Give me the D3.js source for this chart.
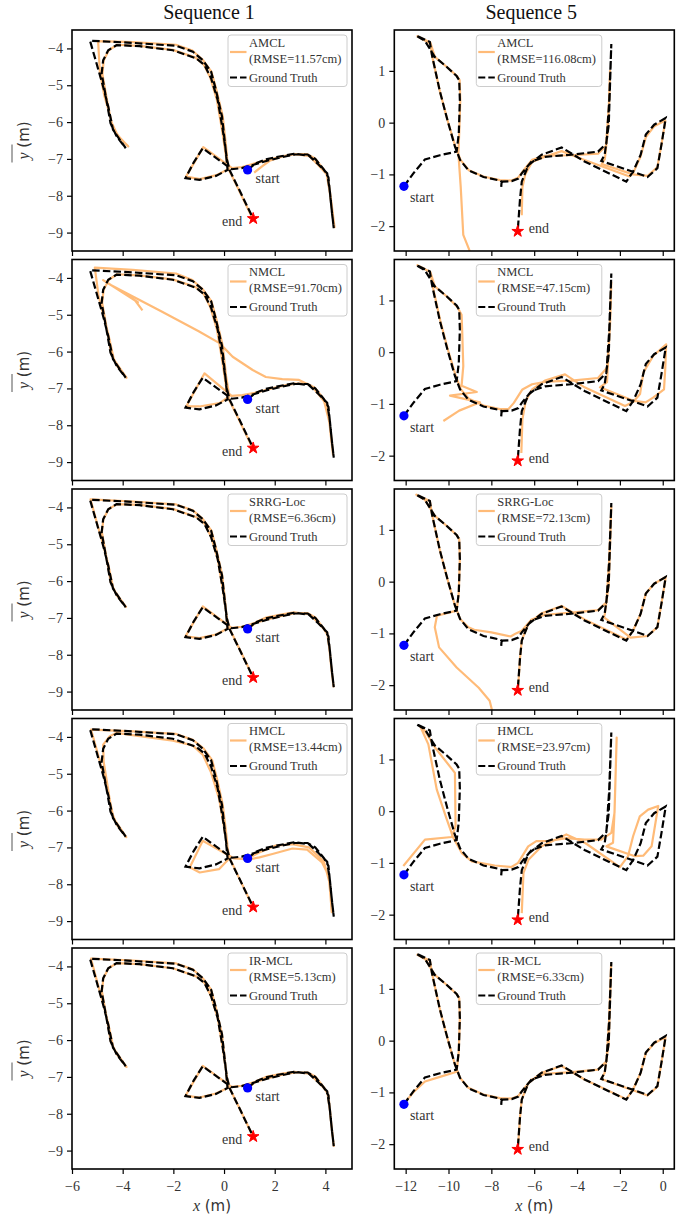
<!DOCTYPE html>
<html>
<head>
<meta charset="utf-8">
<script src="https://cdn.jsdelivr.net/npm/d3@7"></script>
<style>
  body { margin: 0; background: #fff; }
  text { font-family: "Liberation Serif", "DejaVu Serif", serif; }
</style>
</head>
<body>
<svg id="chart" width="682" height="1217"></svg>
<script>
// ---- data ----
var methods = ["AMCL", "NMCL", "SRRG-Loc", "HMCL", "IR-MCL"];
var rmseSeq1 = ["11.57", "91.70", "6.36", "13.44", "5.13"];
var rmseSeq5 = ["116.08", "47.15", "72.13", "23.97", "6.33"];

var xTicksSeq1 = [-6, -4, -2, 0, 2, 4];
var yTicksSeq1 = [-9, -8, -7, -6, -5, -4];
var xTicksSeq5 = [-12, -10, -8, -6, -4, -2, 0];
var yTicksSeq5 = [-2, -1, 0, 1];

// ground truth, sequence 1 (first point = start, last = end)
var gtSeq1 = [[0.93,-7.30],[1.25,-7.12],[1.65,-7.01],[2.30,-6.92],[2.76,-6.86],[3.35,-6.91],[3.68,-7.12],[4.07,-7.39],[4.18,-7.90],[4.25,-8.40],[4.33,-8.88],
  [4.22,-8.20],[4.12,-7.50],[3.95,-7.30],[3.60,-7.00],[3.30,-6.88],[2.80,-6.88],[2.30,-6.95],[1.70,-7.05],[1.20,-7.15],[0.70,-7.25],[0.30,-7.28],
  [-0.84,-6.71],[-1.20,-7.10],[-1.52,-7.52],[-0.97,-7.57],[-0.32,-7.46],[0.14,-7.30],
  [0.05,-6.66],[-0.08,-5.85],[-0.32,-5.13],[-0.51,-4.63],[-0.84,-4.32],[-1.23,-4.09],[-1.89,-3.93],[-3.59,-3.85],[-5.29,-3.79],
  [-5.03,-4.41],[-4.77,-5.04],[-4.57,-5.58],[-4.38,-6.21],[-4.11,-6.48],[-3.88,-6.71],
  [-4.24,-6.39],[-4.48,-6.03],[-4.64,-5.40],[-4.83,-4.68],[-4.77,-4.32],[-4.57,-4.05],[-4.24,-3.91],[-3.33,-3.94],[-2.02,-4.05],[-1.10,-4.27],
  [-0.77,-4.45],[-0.51,-4.81],[-0.25,-5.40],[-0.05,-6.21],[0.12,-7.03],[0.23,-7.32],[0.60,-7.84],[1.15,-8.62]];

var amclSeq1 = [[1.19,-7.37],[1.50,-7.20],[1.80,-7.05],[2.30,-6.93],[2.78,-6.87],[3.35,-6.92],[3.70,-7.15],[4.05,-7.42],[4.17,-7.90],[4.27,-8.40],[4.36,-8.85],
  [4.24,-8.20],[4.10,-7.50],[3.93,-7.28],[3.58,-6.98],[3.28,-6.87],[2.80,-6.87],[2.30,-6.93],[1.72,-7.03],[1.22,-7.12],[0.72,-7.22],[0.32,-7.25],
  [-0.82,-6.68],[-1.50,-7.48],[-0.95,-7.55],[-0.30,-7.44],[0.16,-7.28],
  [0.08,-6.66],[-0.05,-5.85],[-0.30,-5.13],[-0.50,-4.63],[-0.85,-4.30],[-1.25,-4.06],[-1.90,-3.90],[-3.60,-3.83],[-4.97,-3.80],
  [-4.90,-4.65],[-4.72,-5.30],[-4.55,-5.70],[-4.36,-6.20],[-4.08,-6.45],[-3.78,-6.66],
  [-4.20,-6.36],[-4.45,-6.00],[-4.62,-5.40],[-4.80,-4.70],[-4.75,-4.33],[-4.55,-4.05],[-4.22,-3.90],[-3.33,-3.93],[-2.02,-4.04],[-1.12,-4.25],
  [-0.80,-4.44],[-0.54,-4.80],[-0.28,-5.40],[-0.08,-6.21],[0.10,-7.03],[0.21,-7.32],[0.58,-7.84],[1.10,-8.58]];

var nmclSeq1 = [[-3.22,-4.88],[-3.50,-4.62],[-3.40,-4.66],[-4.77,-4.06],[-4.45,-4.20],[-2.50,-4.90],[-1.00,-5.45],[-0.18,-5.77],[0.34,-6.14],[1.13,-6.50],
  [1.65,-6.69],[2.30,-6.75],[2.96,-6.77],[3.48,-6.95],[3.95,-7.35],[4.15,-7.90],[4.25,-8.40],[4.30,-8.80],
  [4.20,-8.20],[4.10,-7.50],[3.93,-7.28],[3.58,-6.98],[3.28,-6.87],[2.80,-6.87],[2.30,-6.93],[1.72,-7.03],[1.22,-7.12],[0.72,-7.18],[0.30,-7.20],
  [-0.77,-6.59],[-1.49,-7.49],[-0.97,-7.49],[-0.18,-7.40],[0.21,-7.22],
  [0.08,-6.66],[-0.05,-5.85],[-0.30,-5.13],[-0.50,-4.63],[-0.85,-4.30],[-1.25,-4.06],[-1.90,-3.88],[-3.60,-3.78],[-5.10,-3.72],
  [-4.95,-4.50],[-4.75,-5.04],[-4.55,-5.58],[-4.35,-6.21],[-4.08,-6.48],[-3.85,-6.71],
  [-4.22,-6.39],[-4.46,-6.03],[-4.62,-5.40],[-4.81,-4.68],[-4.75,-4.32],[-4.55,-4.05],[-4.22,-3.90],[-3.33,-3.93],[-2.02,-4.04],[-1.12,-4.25],
  [-0.80,-4.44],[-0.54,-4.80],[-0.28,-5.40],[-0.08,-6.21],[0.10,-7.03],[0.21,-7.32],[0.58,-7.84],[1.10,-8.58]];

var srrgSeq1 = [[0.95,-7.31],[1.27,-7.11],[1.66,-6.99],[2.30,-6.90],[2.76,-6.85],[3.36,-6.90],[3.69,-7.11],[4.07,-7.40],[4.17,-7.90],[4.24,-8.40],[4.32,-8.86],
  [4.21,-8.20],[4.11,-7.50],[3.94,-7.29],[3.60,-6.99],[3.30,-6.87],[2.80,-6.87],[2.30,-6.94],[1.70,-7.04],[1.20,-7.14],[0.70,-7.24],[0.30,-7.27],
  [-0.84,-6.69],[-1.52,-7.50],[-0.97,-7.55],[-0.32,-7.45],[0.14,-7.29],
  [0.06,-6.66],[-0.07,-5.85],[-0.31,-5.13],[-0.50,-4.63],[-0.84,-4.31],[-1.23,-4.08],[-1.89,-3.92],[-3.59,-3.84],[-5.27,-3.78],
  [-5.02,-4.41],[-4.76,-5.04],[-4.56,-5.58],[-4.37,-6.21],[-4.10,-6.48],[-3.87,-6.70],
  [-4.23,-6.39],[-4.47,-6.03],[-4.63,-5.40],[-4.82,-4.68],[-4.76,-4.32],[-4.56,-4.05],[-4.23,-3.91],[-3.33,-3.93],[-2.02,-4.04],[-1.10,-4.26],
  [-0.77,-4.44],[-0.51,-4.80],[-0.25,-5.40],[-0.05,-6.21],[0.12,-7.03],[0.23,-7.31],[0.60,-7.83],[1.14,-8.60]];

var hmclSeq1 = [[0.95,-7.33],[1.40,-7.27],[1.91,-7.18],[2.70,-7.03],[3.28,-7.06],[3.87,-7.41],[4.13,-7.77],[4.20,-8.30],[4.25,-8.76],
  [4.18,-8.00],[3.94,-7.38],[3.35,-7.00],[2.70,-6.91],[2.04,-6.95],[1.39,-7.14],[0.86,-7.32],[0.40,-7.30],
  [-0.84,-6.82],[-1.35,-7.54],[-0.96,-7.68],[-0.20,-7.59],[0.18,-7.32],
  [0.10,-6.70],[-0.05,-5.85],[-0.28,-5.13],[-0.47,-4.63],[-0.80,-4.32],[-1.23,-4.08],[-1.89,-3.92],[-3.59,-3.85],[-5.25,-3.80],
  [-5.00,-4.41],[-4.75,-5.04],[-4.55,-5.58],[-4.36,-6.21],[-4.09,-6.48],[-3.86,-6.72],
  [-4.22,-6.40],[-4.44,-6.03],[-4.58,-5.40],[-4.75,-4.68],[-4.77,-4.21],[-4.51,-3.98],[-4.25,-3.89],[-3.33,-3.98],[-2.02,-4.10],[-1.24,-4.23],
  [-0.84,-4.48],[-0.51,-4.97],[-0.19,-5.69],[0.08,-6.77],[0.21,-7.27],[0.60,-7.84],[1.13,-8.60]];

var irmclSeq1 = [[0.94,-7.31],[1.26,-7.12],[1.66,-7.00],[2.30,-6.91],[2.77,-6.86],[3.36,-6.91],[3.69,-7.12],[4.07,-7.40],[4.18,-7.90],[4.25,-8.40],[4.33,-8.87],
  [4.22,-8.20],[4.12,-7.50],[3.95,-7.29],[3.60,-6.99],[3.30,-6.88],[2.80,-6.88],[2.30,-6.94],[1.70,-7.04],[1.20,-7.14],[0.70,-7.24],[0.30,-7.27],
  [-0.84,-6.70],[-1.52,-7.51],[-0.97,-7.56],[-0.32,-7.45],[0.14,-7.30],
  [0.05,-6.66],[-0.08,-5.85],[-0.32,-5.13],[-0.51,-4.63],[-0.84,-4.32],[-1.23,-4.08],[-1.89,-3.92],[-3.59,-3.84],[-5.25,-3.79],
  [-5.01,-4.41],[-4.76,-5.04],[-4.56,-5.58],[-4.37,-6.21],[-4.10,-6.48],[-3.85,-6.73],
  [-4.23,-6.39],[-4.47,-6.03],[-4.63,-5.40],[-4.82,-4.68],[-4.76,-4.32],[-4.56,-4.05],[-4.23,-3.91],[-3.33,-3.94],[-2.02,-4.05],[-1.10,-4.27],
  [-0.77,-4.45],[-0.51,-4.81],[-0.25,-5.40],[-0.05,-6.21],[0.12,-7.03],[0.23,-7.32],[0.60,-7.84],[1.14,-8.61]];

// ground truth, sequence 5
var gtSeq5 = [[-12.08,-1.23],[-11.64,-0.98],[-11.10,-0.71],[-10.40,-0.63],[-9.62,-0.56],[-9.52,-0.21],[-9.47,0.44],[-9.50,0.82],[-9.62,0.90],
  [-10.09,1.08],[-10.64,1.27],[-11.10,1.58],[-11.50,1.68],[-10.87,1.56],[-10.77,1.30],[-10.40,0.60],[-10.05,0.05],[-9.70,-0.46],
  [-9.46,-0.72],[-9.07,-0.92],[-8.37,-1.05],[-7.60,-1.12],[-7.52,-1.14],[-7.54,-1.24],[-7.50,-1.14],[-7.05,-1.13],[-6.74,-1.08],
  [-6.58,-0.98],[-6.12,-0.75],[-5.50,-0.66],[-4.26,-0.62],[-3.02,-0.56],[-2.63,-0.40],[-2.50,0.40],[-2.40,1.52],
  [-2.52,-0.04],[-2.71,-0.62],[-2.87,-0.74],[-1.39,-0.95],[-0.71,-1.05],[-0.25,-0.88],[-0.05,-0.40],[0.14,0.09],
  [-0.40,-0.04],[-0.79,-0.23],[-1.03,-0.62],[-1.39,-0.95],[-1.70,-1.14],[-3.65,-0.75],[-4.72,-0.48],
  [-5.65,-0.62],[-6.27,-0.82],[-6.58,-1.14],[-6.66,-1.47],[-6.77,-2.10]];

var amclSeq5 = [[-8.85,-2.90],[-9.03,-2.46],[-9.31,-2.17],[-9.43,-1.24],[-9.54,-0.59],[-9.50,-0.21],[-9.45,0.44],[-9.48,0.82],[-9.60,0.90],
  [-10.09,1.08],[-10.64,1.27],[-10.85,1.55],[-11.45,1.67],[-10.85,1.53],[-10.76,1.28],[-10.40,0.60],[-10.05,0.05],[-9.68,-0.46],
  [-9.44,-0.72],[-9.05,-0.92],[-8.37,-1.04],[-7.60,-1.11],[-7.05,-1.12],[-6.74,-1.06],[-6.55,-0.95],[-6.10,-0.72],[-5.50,-0.64],
  [-4.26,-0.63],[-3.02,-0.60],[-2.65,-0.45],[-2.50,0.40],[-2.46,1.00],[-2.55,-0.10],[-2.70,-0.70],[-2.85,-0.80],
  [-1.39,-1.00],[-0.71,-1.03],[-0.25,-0.86],[-0.05,-0.40],[0.12,0.04],[-0.40,-0.07],[-0.79,-0.28],[-1.03,-0.65],[-1.39,-0.98],
  [-1.55,-1.04],[-3.65,-0.72],[-4.72,-0.55],[-5.50,-0.66],[-6.10,-0.76],[-6.42,-1.00],[-6.55,-1.25],[-6.58,-1.79]];

var nmclSeq5 = [[-10.24,-1.33],[-9.50,-1.13],[-8.53,-0.97],[-9.93,-0.84],[-8.68,-0.77],[-9.39,-0.65],[-9.31,-0.27],[-9.36,0.40],[-9.39,0.72],
  [-9.60,0.88],[-10.09,1.08],[-10.64,1.27],[-10.85,1.55],[-11.45,1.68],[-10.85,1.55],[-10.74,1.28],[-10.38,0.60],[-10.03,0.05],
  [-9.66,-0.46],[-9.42,-0.72],[-9.05,-0.90],[-8.37,-1.03],[-7.60,-1.10],[-7.20,-1.10],[-6.95,-0.98],[-6.55,-0.72],[-6.10,-0.62],
  [-5.42,-0.57],[-4.26,-0.55],[-3.02,-0.50],[-2.60,-0.30],[-2.46,0.50],[-2.40,1.35],[-2.48,0.40],[-2.60,-0.58],[-2.93,-0.68],
  [-1.37,-0.94],[-0.80,-0.97],[-0.45,-0.88],[0.06,-0.72],[0.12,-0.30],[0.16,0.15],[-0.44,-0.07],[-0.90,-0.39],[-1.06,-0.81],
  [-1.37,-0.96],[-1.76,-1.04],[-3.65,-0.68],[-4.56,-0.43],[-5.50,-0.55],[-6.10,-0.72],[-6.40,-0.95],[-6.55,-1.30],[-6.60,-1.95]];

var srrgSeq5 = [[-7.80,-2.75],[-7.97,-2.48],[-8.08,-2.30],[-8.59,-2.05],[-9.62,-1.66],[-10.44,-1.27],[-10.64,-0.88],[-10.54,-0.66],[-9.62,-0.56],
  [-9.52,-0.21],[-9.47,0.44],[-9.50,0.82],[-9.62,0.90],[-10.09,1.08],[-10.64,1.27],[-11.10,1.58],[-11.50,1.68],[-10.87,1.56],
  [-10.77,1.30],[-10.40,0.60],[-10.05,0.05],[-9.70,-0.46],[-9.46,-0.72],[-9.07,-0.88],[-8.80,-0.93],[-8.00,-0.98],[-7.10,-1.06],
  [-6.85,-1.00],[-6.58,-0.95],[-6.12,-0.73],[-5.50,-0.64],[-4.26,-0.60],[-3.02,-0.55],[-2.63,-0.40],[-2.50,0.40],[-2.40,1.45],
  [-2.52,-0.04],[-2.70,-0.62],[-2.74,-0.69],[-1.50,-1.08],[-0.71,-1.05],[-0.25,-0.88],[-0.05,-0.40],[0.14,0.09],
  [-0.40,-0.04],[-0.79,-0.23],[-1.03,-0.62],[-1.39,-0.95],[-1.70,-1.12],[-3.65,-0.73],[-4.72,-0.47],
  [-5.65,-0.61],[-6.27,-0.81],[-6.58,-1.13],[-6.66,-1.47],[-6.75,-2.05]];

var hmclSeq5 = [[-12.11,-1.06],[-11.10,-0.55],[-9.85,-0.50],[-9.67,-0.29],[-9.70,0.74],[-10.63,1.23],[-11.10,1.55],[-11.30,1.62],
  [-10.94,1.29],[-10.55,0.42],[-10.08,-0.16],[-9.77,-0.52],[-9.38,-0.81],[-8.91,-0.97],[-7.84,-1.05],[-7.06,-1.08],[-6.75,-1.00],
  [-6.28,-0.68],[-5.90,-0.58],[-5.36,-0.58],[-4.50,-0.52],[-3.65,-0.55],[-2.87,-0.55],[-2.40,-0.42],[-2.25,-0.03],[-2.15,1.42],
  [-2.25,0.00],[-2.32,-0.61],[-2.63,-0.68],[-1.30,-0.87],[-0.91,-0.86],[-0.52,-0.68],[-0.21,0.10],[-0.68,0.03],[-1.07,-0.10],
  [-1.38,-0.48],[-1.62,-0.87],[-2.00,-1.08],[-3.60,-0.62],[-4.50,-0.45],[-5.65,-0.68],[-6.27,-0.94],[-6.50,-1.19],[-6.58,-1.97]];

var irmclSeq5 = [[-12.05,-1.20],[-11.60,-0.98],[-11.10,-0.79],[-10.40,-0.70],[-9.62,-0.60],[-9.52,-0.21],[-9.47,0.44],[-9.50,0.82],[-9.62,0.90],
  [-10.09,1.08],[-10.64,1.27],[-11.08,1.57],[-11.45,1.66],[-10.87,1.55],[-10.77,1.30],[-10.40,0.60],[-10.05,0.05],[-9.70,-0.46],
  [-9.46,-0.72],[-9.07,-0.91],[-8.37,-1.04],[-7.60,-1.11],[-7.05,-1.12],[-6.74,-1.07],[-6.58,-0.98],[-6.12,-0.75],[-5.50,-0.64],
  [-4.26,-0.61],[-3.02,-0.56],[-2.63,-0.40],[-2.50,0.40],[-2.41,1.48],[-2.52,-0.04],[-2.71,-0.62],[-2.87,-0.74],
  [-1.39,-0.96],[-0.71,-1.06],[-0.25,-0.89],[-0.05,-0.40],[0.13,0.07],[-0.40,-0.05],[-0.79,-0.24],[-1.03,-0.62],[-1.39,-0.95],
  [-1.70,-1.13],[-3.65,-0.75],[-4.72,-0.49],[-5.65,-0.62],[-6.27,-0.82],[-6.58,-1.13],[-6.66,-1.47],[-6.76,-2.08]];

var estSeq1 = [amclSeq1, nmclSeq1, srrgSeq1, hmclSeq1, irmclSeq1];
var estSeq5 = [amclSeq5, nmclSeq5, srrgSeq5, hmclSeq5, irmclSeq5];

// ---- layout ----
var W = 280, H = 221, rowPitch = 229.5, firstTop = 30;
var orange = "#ffbb78";

var columns = [
  { title: "Sequence 1", left: 72, gt: gtSeq1, est: estSeq1, rmse: rmseSeq1,
    xDomain: [-6, 5.05], yDomain: [-9.5, -3.5], xTicks: xTicksSeq1, yTicks: yTicksSeq1,
    legX: 156, legW: 119, startDx: 8, startDy: 13.5, endDx: -11, endDy: 7.5, endAnchor: "end" },
  { title: "Sequence 5", left: 394.3, gt: gtSeq5, est: estSeq5, rmse: rmseSeq5,
    xDomain: [-12.53, 0.54], yDomain: [-2.48, 1.79], xTicks: xTicksSeq5, yTicks: yTicksSeq5,
    legX: 82, legW: 125.5, startDx: 6, startDy: 16, endDx: 11, endDy: 2, endAnchor: "start" }
];

var svg = d3.select("#chart");
var defs = svg.append("defs");

columns.forEach(function (c, ci) {
  // column title
  svg.append("text")
    .attr("x", c.left + W / 2 - 3)
    .attr("y", 19)
    .attr("text-anchor", "middle")
    .style("font-size", "20px")
    .attr("fill", "#111")
    .text(c.title);

  var x = d3.scaleLinear().domain(c.xDomain).range([0, W]);
  var y = d3.scaleLinear().domain(c.yDomain).range([H, 0]);
  var line = d3.line().x(function (d) { return x(d[0]); }).y(function (d) { return y(d[1]); });

  methods.forEach(function (m, ri) {
    var top = firstTop + ri * rowPitch;
    var g = svg.append("g").attr("transform", "translate(" + c.left + "," + top + ")");
    var clipId = "clip" + ci + "_" + ri;
    defs.append("clipPath").attr("id", clipId)
      .append("rect").attr("width", W).attr("height", H);

    var plot = g.append("g").attr("clip-path", "url(#" + clipId + ")");
    plot.append("path").datum(c.est[ri])
      .attr("d", line)
      .attr("fill", "none")
      .attr("stroke", orange)
      .attr("stroke-width", 2.2)
      .attr("stroke-linejoin", "round");
    plot.append("path").datum(c.gt)
      .attr("d", line)
      .attr("fill", "none")
      .attr("stroke", "#000")
      .attr("stroke-width", 2.2)
      .attr("stroke-dasharray", "7.5,3.2");

    // start / end markers
    var s = c.gt[0], e = c.gt[c.gt.length - 1];
    g.append("circle").attr("cx", x(s[0])).attr("cy", y(s[1])).attr("r", 4.6).attr("fill", "#0000ff");
    g.append("path")
      .attr("d", d3.symbol().type(d3.symbolStar).size(42)())
      .attr("transform", "translate(" + x(e[0]) + "," + y(e[1]) + ")")
      .attr("fill", "#ff0000").attr("stroke", "#ff0000").attr("stroke-width", 1);
    g.append("text").attr("x", x(s[0]) + c.startDx).attr("y", y(s[1]) + c.startDy)
      .style("font-size", "14px").attr("fill", "#333").text("start");
    g.append("text").attr("x", x(e[0]) + c.endDx).attr("y", y(e[1]) + c.endDy)
      .attr("text-anchor", c.endAnchor)
      .style("font-size", "14px").attr("fill", "#333").text("end");

    // axes
    var yAxis = d3.axisLeft(y).tickValues(c.yTicks).tickSize(5).tickPadding(4).tickFormat(d3.format("d"));
    var ya = g.append("g").call(yAxis);
    var xAxis = d3.axisBottom(x).tickValues(c.xTicks).tickSize(5).tickPadding(5)
      .tickFormat(ri === methods.length - 1 ? d3.format("d") : function () { return ""; });
    var xa = g.append("g").attr("transform", "translate(0," + H + ")").call(xAxis);
    [ya, xa].forEach(function (a) {
      a.select(".domain").remove();
      a.selectAll(".tick line").attr("stroke", "#000").attr("stroke-width", 1.2);
      a.selectAll(".tick text")
        .style("font-family", "'Liberation Serif', 'DejaVu Serif', serif")
        .style("font-size", "14px").attr("fill", "#333");
    });
    xa.selectAll(".tick text").attr("dy", "0.85em");

    // frame
    g.append("rect").attr("width", W).attr("height", H)
      .attr("fill", "none").attr("stroke", "#000").attr("stroke-width", 1.6);

    // legend
    var lg = g.append("g").attr("transform", "translate(" + c.legX + ",5)");
    lg.append("rect").attr("width", c.legW).attr("height", 51.5).attr("rx", 3)
      .attr("fill", "#fff").attr("fill-opacity", 0.8)
      .attr("stroke", "#cccccc").attr("stroke-width", 1);
    lg.append("line").attr("x1", 2).attr("x2", 18.5).attr("y1", 17).attr("y2", 17)
      .attr("stroke", orange).attr("stroke-width", 2.2);
    lg.append("line").attr("x1", 2).attr("x2", 18.5).attr("y1", 42.5).attr("y2", 42.5)
      .attr("stroke", "#000").attr("stroke-width", 2.2).attr("stroke-dasharray", "7,3");
    lg.append("text").attr("x", 21).attr("y", 11.7).style("font-size", "12.5px").attr("fill", "#333").text(m);
    lg.append("text").attr("x", 21).attr("y", 27.7).style("font-size", "12.5px").attr("fill", "#333")
      .text("(RMSE=" + c.rmse[ri] + "cm)");
    lg.append("text").attr("x", 21).attr("y", 46.7).style("font-size", "12.5px").attr("fill", "#333").text("Ground Truth");

    // y label
    if (ci === 0) {
      var cy = top + H / 2;
      var yl = svg.append("text")
        .attr("transform", "translate(29," + cy + ") rotate(-90)")
        .attr("text-anchor", "middle")
        .style("font-size", "16px").attr("fill", "#333");
      yl.append("tspan").style("font-style", "italic").text("y");
      yl.append("tspan").style("font-family", "'DejaVu Sans', sans-serif").style("font-size", "15px").text(" (m)");
      svg.append("line").attr("x1", 12).attr("x2", 12).attr("y1", cy + 4).attr("y2", cy + 22)
        .attr("stroke", "#555").attr("stroke-width", 1);
    }
  });

  // x label
  var xl = svg.append("text")
    .attr("x", c.left + W / 2).attr("y", 1211)
    .attr("text-anchor", "middle")
    .style("font-size", "16px").attr("fill", "#333");
  xl.append("tspan").style("font-style", "italic").text("x");
  xl.append("tspan").style("font-family", "'DejaVu Sans', sans-serif").style("font-size", "15px").text(" (m)");
});
</script>
</body>
</html>
